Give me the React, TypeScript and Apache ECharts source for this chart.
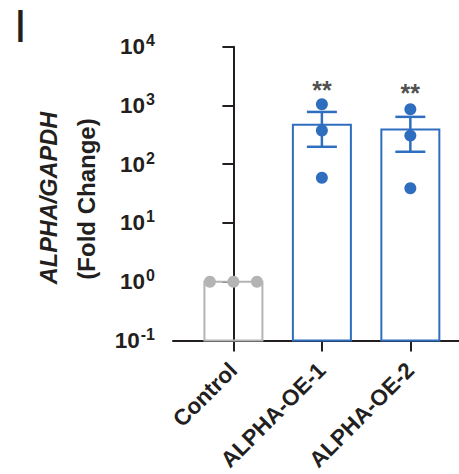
import React, { useEffect, useRef } from "react";
import * as echarts from "echarts";

const categories = ["Control", "ALPHA-OE-1", "ALPHA-OE-2"];
const barMeans = [1, 468, 389];
const errLow = [1, 198, 163];
const errHigh = [1, 776, 640];
const controlReps = [1, 1, 1];
const oe1Reps = [1050, 374, 59];
const oe2Reps = [863, 307, 39];
const sigLabels = ["", "**", "**"];
const sigValues = [0, 1850, 1650];

const BLUE = "#2f6ebf";
const GRAY = "#b4b4b4";
const DARK = "#231f20";
const FONT = "'Liberation Sans', Arial, sans-serif";
const AXIS_MIN = 0.1;

export default function App() {
  const ref = useRef<HTMLDivElement>(null);
  useEffect(() => {
    if (!ref.current) return;
    const chart = echarts.init(ref.current, undefined, { renderer: "svg" });
    const ctrlOffset = 0.266;
    const ctrlPts = controlReps.map((v, i) => [(i - 1) * ctrlOffset, v]);
    const bluePts = [
      ...oe1Reps.map((v) => [1, v]),
      ...oe2Reps.map((v) => [2, v]),
    ];
    const barData = barMeans.map((v, i) => [i, v]);
    const errData = [1, 2].map((i) => [i, errLow[i], errHigh[i]]);
    const sigData = [1, 2].map((i) => ({ value: [i, sigValues[i]], label: { formatter: sigLabels[i] } }));
    chart.setOption({
      animation: false,
      grid: { left: 173, right: 0, top: 46.7, bottom: 133, containLabel: false },
      xAxis: {
        type: "value",
        min: -0.683,
        max: 2.55,
        splitLine: { show: false },
        axisLine: { show: true, lineStyle: { color: DARK, width: 2 } },
        axisTick: { show: true, customValues: [0, 1, 2], length: 11, lineStyle: { color: DARK, width: 2 } },
        axisLabel: {
          show: true,
          customValues: [0, 1, 2],
          rotate: 45,
          margin: 26,
          formatter: (v: number) => categories[Math.round(v)] ?? "",
          color: DARK,
          fontSize: 22.5,
          fontWeight: "bold",
          fontFamily: FONT,
        },
      },
      yAxis: {
        type: "log",
        logBase: 10,
        min: AXIS_MIN,
        max: 10000,
        splitLine: { show: false },
        axisLine: { show: true, lineStyle: { color: DARK, width: 2 } },
        axisTick: { show: true, length: 11, lineStyle: { color: DARK, width: 2 } },
        axisLabel: {
          margin: 18,
          formatter: (v: number) => `{b|10}{s|${Math.round(Math.log10(v))}}`,
          rich: {
            b: { fontSize: 22.5, fontWeight: "bold", color: DARK, fontFamily: FONT, lineHeight: 28 },
            s: { fontSize: 16, fontWeight: "bold", color: DARK, fontFamily: FONT, verticalAlign: "top", lineHeight: 15, padding: [0, 0, 0, 1] },
          },
        },
      },
      graphic: [
        { type: "text", left: 14, top: 3, style: { text: "I", fontSize: 46, fontFamily: FONT, fill: DARK } },
        {
          type: "text", x: 49, y: 198, rotation: Math.PI / 2,
          style: { text: "ALPHA/GAPDH", fontSize: 23.5, fontWeight: "bold", fontStyle: "italic", fontFamily: FONT, fill: DARK, align: "center", verticalAlign: "middle" },
        },
        {
          type: "text", x: 86, y: 199, rotation: Math.PI / 2,
          style: { text: "(Fold Change)", fontSize: 24, fontWeight: "bold", fontFamily: FONT, fill: DARK, align: "center", verticalAlign: "middle" },
        },
      ],
      series: [
        {
          type: "custom",
          data: barData,
          z: 2,
          renderItem: (params: any, api: any) => {
            const x = api.value(0);
            const top = api.coord([x, api.value(1)]);
            const base = api.coord([x, AXIS_MIN]);
            const w = 58;
            return {
              type: "rect",
              shape: { x: top[0] - w / 2, y: top[1], width: w, height: base[1] - top[1] },
              style: { fill: "none", stroke: params.dataIndex === 0 ? GRAY : BLUE, lineWidth: 2 },
            };
          },
        },
        {
          type: "custom",
          data: errData,
          z: 3,
          renderItem: (params: any, api: any) => {
            const x = api.value(0);
            const lo = api.coord([x, api.value(1)]);
            const hi = api.coord([x, api.value(2)]);
            const half = 15;
            const style = { stroke: BLUE, lineWidth: 2.5 };
            return {
              type: "group",
              children: [
                { type: "line", shape: { x1: lo[0], y1: lo[1], x2: hi[0], y2: hi[1] }, style },
                { type: "line", shape: { x1: lo[0] - half, y1: lo[1], x2: lo[0] + half, y2: lo[1] }, style },
                { type: "line", shape: { x1: hi[0] - half, y1: hi[1], x2: hi[0] + half, y2: hi[1] }, style },
              ],
            };
          },
        },
        {
          type: "scatter",
          data: ctrlPts,
          symbolSize: 12,
          itemStyle: { color: GRAY, opacity: 1 },
          z: 4,
        },
        {
          type: "scatter",
          data: bluePts,
          symbolSize: 12,
          itemStyle: { color: BLUE, opacity: 1 },
          z: 4,
        },
        {
          type: "scatter",
          data: sigData,
          symbolSize: 0,
          label: { show: true, position: "inside", color: DARK, fontSize: 25, fontWeight: "bold", fontFamily: FONT },
          z: 5,
        },
      ],
    });
    return () => chart.dispose();
  }, []);
  return <div ref={ref} style={{ position: "fixed", left: 0, top: 0, width: 459, height: 474, background: "#fff" }} />;
}
